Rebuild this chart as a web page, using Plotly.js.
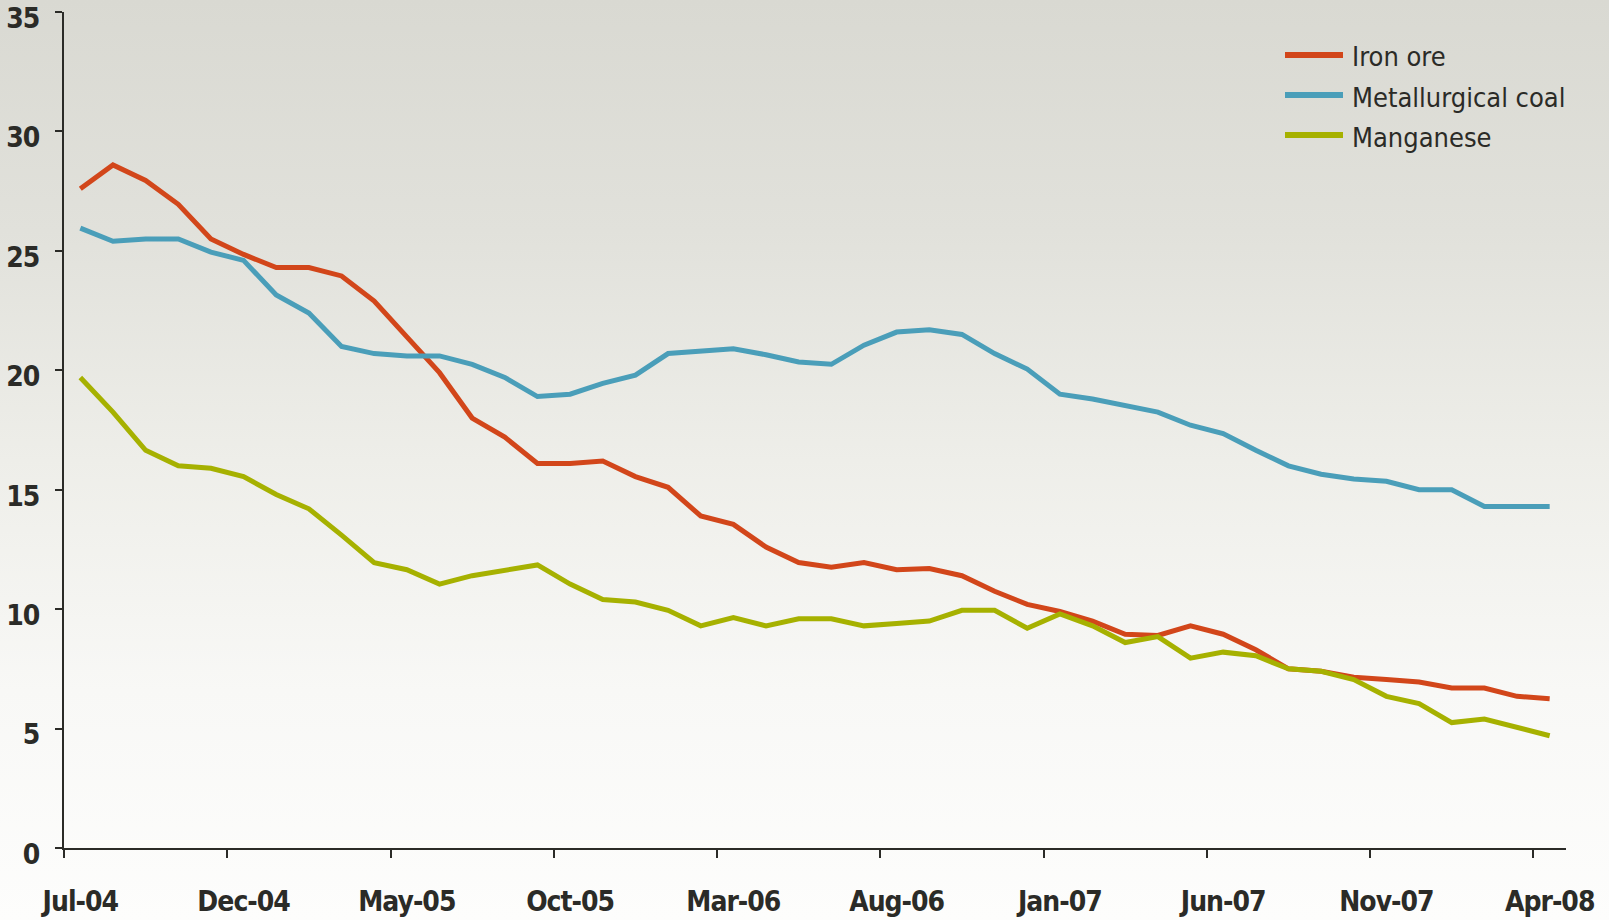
<!DOCTYPE html>
<html>
<head>
<meta charset="utf-8">
<script src="https://cdn.plot.ly/plotly-3.0.1.min.js"></script>
<style>
html,body{margin:0;padding:0;}
body{width:1609px;height:920px;background:linear-gradient(to bottom,#d9d9d2 0%,#e1e1db 25%,#eeeee9 50%,#f8f8f6 75%,#fdfdfc 100%);}
#chart{width:1609px;height:920px;}
#chart .xtick text{letter-spacing:-1px;}
#chart .ytick text{letter-spacing:-1px;}
</style>
</head>
<body>
<div id="chart"></div>
<script>
const months = ["Jul-04","Aug-04","Sep-04","Oct-04","Nov-04","Dec-04","Jan-05","Feb-05","Mar-05","Apr-05","May-05","Jun-05","Jul-05","Aug-05","Sep-05","Oct-05","Nov-05","Dec-05","Jan-06","Feb-06","Mar-06","Apr-06","May-06","Jun-06","Jul-06","Aug-06","Sep-06","Oct-06","Nov-06","Dec-06","Jan-07","Feb-07","Mar-07","Apr-07","May-07","Jun-07","Jul-07","Aug-07","Sep-07","Oct-07","Nov-07","Dec-07","Jan-08","Feb-08","Mar-08","Apr-08"];

const ironOre = [27.6,28.6,27.95,26.95,25.5,24.85,24.3,24.3,23.95,22.9,21.4,19.9,18.0,17.2,16.1,16.1,16.2,15.55,15.1,13.9,13.55,12.6,11.95,11.75,11.95,11.65,11.7,11.4,10.75,10.2,9.9,9.5,8.95,8.9,9.3,8.95,8.3,7.5,7.4,7.15,7.05,6.95,6.7,6.7,6.35,6.25];
const metCoal = [25.95,25.4,25.5,25.5,24.95,24.6,23.15,22.4,21.0,20.7,20.6,20.6,20.25,19.7,18.9,19.0,19.45,19.8,20.7,20.8,20.9,20.65,20.35,20.25,21.05,21.6,21.7,21.5,20.7,20.05,19.0,18.8,18.55,18.25,17.7,17.35,16.65,16.0,15.65,15.45,15.35,15.0,15.0,14.3,14.3,14.3];
const manganese = [19.7,18.25,16.65,16.0,15.9,15.55,14.8,14.2,13.1,11.95,11.65,11.05,11.4,11.65,11.85,11.05,10.4,10.3,9.95,9.3,9.65,9.3,9.6,9.6,9.3,9.4,9.5,9.95,9.95,9.2,9.8,9.3,8.6,8.85,7.95,8.2,8.05,7.5,7.4,7.05,6.35,6.05,5.25,5.4,5.05,4.7];

const seriesNames = ["Iron ore","Metallurgical coal","Manganese"];
const seriesColors = ["#d2461a","#4a9eb9","#a6b100"];
const seriesData = [ironOre, metCoal, manganese];

const yTicks = [0,5,10,15,20,25,30,35];

const FONT = "'DejaVu Sans Condensed','Liberation Sans Narrow','Arial Narrow',sans-serif";
const TXT = "#2b2b27";

const traces = seriesData.map((d,i)=>({
  type:"scatter", mode:"lines", x:months, y:d, name:seriesNames[i],
  line:{color:seriesColors[i], width:5}, showlegend:false, hoverinfo:"x+y+name"
}));

const W=1609,H=920,ml=64,mr=43,mt=12,mb=72;
const pw=W-ml-mr, ph=H-mt-mb;
const px2x = p => (p-ml)/pw;
const px2y = p => 1-(p-mt)/ph;

const shapes=[], annotations=[];
seriesNames.forEach((n,i)=>{
  const yy = 55+40*i;
  shapes.push({type:"line", xref:"paper", yref:"paper", x0:px2x(1285), x1:px2x(1343), y0:px2y(yy), y1:px2y(yy), line:{color:seriesColors[i], width:6}});
  annotations.push({xref:"paper", yref:"paper", x:px2x(1350), y:px2y(yy+2), xanchor:"left", yanchor:"middle", text:n, showarrow:false, font:{family:FONT, size:27, color:TXT}});
});

const layout = {
  width:W, height:H,
  margin:{l:ml,r:mr,t:mt,b:mb},
  paper_bgcolor:"rgba(0,0,0,0)", plot_bgcolor:"rgba(0,0,0,0)",
  showlegend:false,
  xaxis:{
    type:"category", range:[-0.5,45.5], tickmode:"linear", tick0:0, dtick:5,
    tickson:"boundaries", ticks:"outside", ticklen:8, tickwidth:2, tickcolor:"#2b2b27",
    showline:true, linecolor:"#2b2b27", linewidth:2, showgrid:false, zeroline:false,
    tickangle:0, automargin:false,
    tickfont:{family:FONT, size:28, color:TXT, weight:"bold"}, ticklabelstandoff:27, fixedrange:true
  },
  yaxis:{
    range:[0,35], tickvals:yTicks, ticktext:yTicks.map(String),
    ticks:"outside", ticklen:7, tickwidth:2, tickcolor:"#2b2b27",
    showline:true, linecolor:"#2b2b27", linewidth:2, showgrid:false, zeroline:false,
    automargin:false, ticklabeloverflow:"allow", ticklabelshift:6,
    tickfont:{family:FONT, size:28, color:TXT, weight:"bold"}, ticklabelstandoff:10, fixedrange:true
  },
  shapes:shapes, annotations:annotations
};

Plotly.newPlot("chart", traces, layout, {displayModeBar:false, staticPlot:true});
</script>
</body>
</html>
